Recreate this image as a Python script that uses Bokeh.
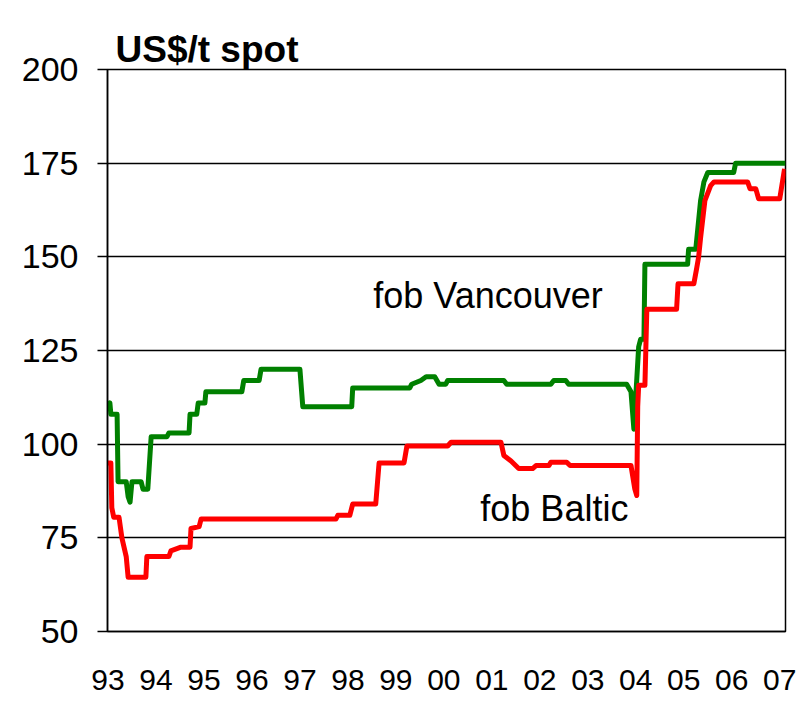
from bokeh.plotting import figure
from bokeh.models import Range1d, FixedTicker, Label
from bokeh.embed import file_html
from bokeh.resources import INLINE

# ---- data ----
year_ticks = [1993, 1994, 1995, 1996, 1997, 1998, 1999, 2000, 2001, 2002, 2003, 2004, 2005, 2006, 2007]
year_labels = ["93", "94", "95", "96", "97", "98", "99", "00", "01", "02", "03", "04", "05", "06", "07"]
price_ticks = [50, 75, 100, 125, 150, 175, 200]

vanc_years = [1993.00, 1993.04, 1993.06, 1993.19, 1993.21, 1993.38, 1993.42, 1993.46, 1993.50, 1993.69,
              1993.73, 1993.83, 1993.90, 1994.23, 1994.27, 1994.69, 1994.71, 1994.85, 1994.88, 1995.02,
              1995.04, 1995.79, 1995.83, 1996.15, 1996.19, 1997.00, 1997.06, 1998.08, 1998.10, 1999.29,
              1999.33, 1999.52, 1999.63, 1999.81, 1999.90, 2000.04, 2000.08, 2001.25, 2001.31, 2002.23,
              2002.29, 2002.54, 2002.60, 2003.81, 2003.90, 2003.96, 2004.06, 2004.10, 2004.17, 2004.19,
              2005.08, 2005.10, 2005.25, 2005.35, 2005.42, 2005.50, 2006.04, 2006.08, 2007.12]
vanc_values = [110, 111, 108, 108, 90, 90, 86, 84.5, 90, 90,
               88, 88, 102, 102, 103, 103, 108, 108, 111, 111,
               114, 114, 117, 117, 120, 120, 110, 110, 115, 115,
               116, 117, 118, 118, 116, 116, 117, 117, 116, 116,
               117, 117, 116, 116, 114, 104, 126, 128, 128, 148,
               148, 152, 152, 165, 170, 172.5, 172.5, 175, 175]

baltic_years = [1993.00, 1993.06, 1993.08, 1993.12, 1993.23, 1993.29, 1993.38, 1993.42, 1993.79, 1993.81,
                1994.27, 1994.31, 1994.52, 1994.71, 1994.73, 1994.90, 1994.94, 1997.75, 1997.79, 1998.04,
                1998.10, 1998.58, 1998.65, 1999.17, 1999.23, 2000.08, 2000.15, 2001.19, 2001.25, 2001.40,
                2001.56, 2001.85, 2001.92, 2002.19, 2002.23, 2002.56, 2002.63, 2003.90, 2003.98, 2004.02,
                2004.04, 2004.06, 2004.19, 2004.23, 2004.85, 2004.88, 2005.21, 2005.27, 2005.31, 2005.35,
                2005.44, 2005.56, 2005.63, 2006.33, 2006.38, 2006.50, 2006.56, 2007.00, 2007.10]
baltic_values = [95, 95, 83, 80.5, 80.5, 75, 70, 64.5, 64.5, 70,
                 70, 71.5, 72.5, 72.5, 77.5, 78, 80, 80, 81, 81,
                 84, 84, 95, 95, 99.5, 99.5, 100.5, 100.5, 97, 95.5,
                 93.5, 93.5, 94.3, 94.3, 95.2, 95.2, 94.3, 94.3, 88, 86.3,
                 110, 115.7, 115.7, 136, 136, 142.8, 142.8, 147, 150, 155,
                 165, 169, 170, 170, 168.2, 168.2, 165.5, 165.5, 173.5]

SANS = "Liberation Sans"

p = figure(frame_width=678, frame_height=562, output_backend="svg", toolbar_location=None, tools="",
           x_range=Range1d(1992.99, 2007.12), y_range=Range1d(50, 200),
           min_border_left=107, min_border_right=13, min_border_top=69, min_border_bottom=81,
           background_fill_color="white", border_fill_color="white",
           title="US$/t spot")

p.title.text_font = SANS
p.title.text_font_size = "37px"
p.title.text_font_style = "bold"
p.title.text_color = "black"
p.title.align = "left"
p.title.offset = 8
p.title.standoff = 0

p.outline_line_color = "black"
p.outline_line_width = 1.5

# y axis
p.yaxis.ticker = FixedTicker(ticks=price_ticks)
p.yaxis.axis_line_color = "black"
p.yaxis.axis_line_width = 1.5
p.yaxis.major_tick_line_color = "black"
p.yaxis.major_tick_line_width = 1.5
p.yaxis.major_tick_out = 10
p.yaxis.major_tick_in = 0
p.yaxis.minor_tick_line_color = None
p.yaxis.major_label_text_font = SANS
p.yaxis.major_label_text_font_size = "34px"
p.yaxis.major_label_text_color = "black"
p.yaxis.major_label_standoff = 19

# x axis
p.xaxis.ticker = FixedTicker(ticks=year_ticks)
p.xaxis.major_label_overrides = {y: l for y, l in zip(year_ticks, year_labels)}
p.xaxis.axis_line_color = "black"
p.xaxis.axis_line_width = 1.5
p.xaxis.major_tick_line_color = None
p.xaxis.minor_tick_line_color = None
p.xaxis.major_label_text_font = SANS
p.xaxis.major_label_text_font_size = "30px"
p.xaxis.major_label_text_color = "black"
p.xaxis.major_label_standoff = 32

p.xgrid.visible = False
p.ygrid.ticker = FixedTicker(ticks=price_ticks)
p.ygrid.grid_line_color = "black"
p.ygrid.grid_line_width = 1.5

p.line(vanc_years, vanc_values, line_color="#008000", line_width=5, line_join="round")
p.line(baltic_years, baltic_values, line_color="#ff0000", line_width=5, line_join="round")

p.add_layout(Label(x=1998.53, y=139.7, text="fob Vancouver", text_font=SANS, text_font_size="36px",
                   text_color="black", text_baseline="alphabetic"))
p.add_layout(Label(x=2000.76, y=82.8, text="fob Baltic", text_font=SANS, text_font_size="36px",
                   text_color="black", text_baseline="alphabetic"))

open("out.html", "w").write(file_html(p, INLINE))
